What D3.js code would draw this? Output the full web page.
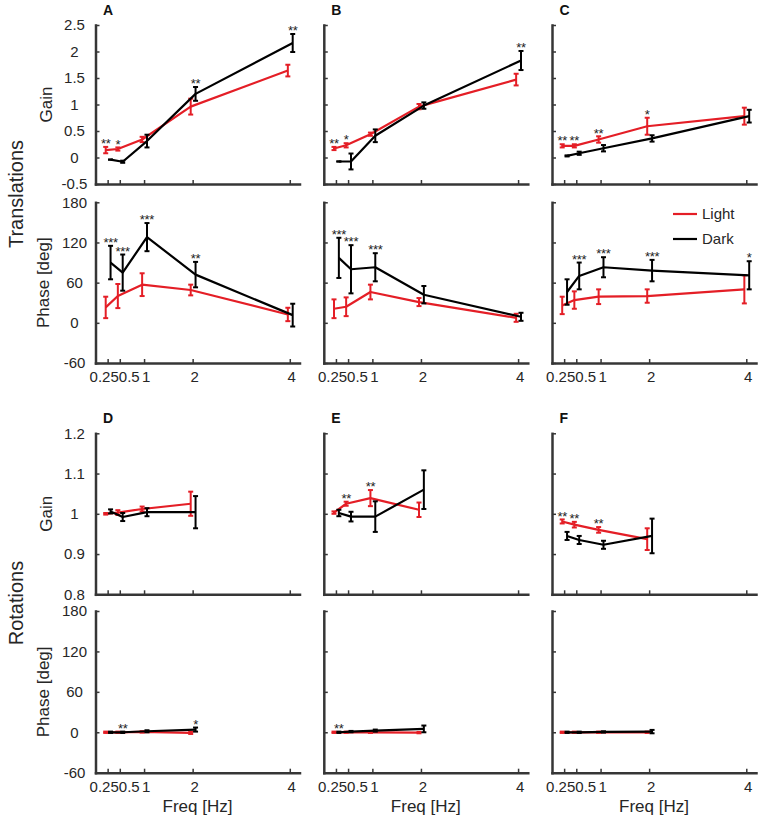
<!DOCTYPE html>
<html><head><meta charset="utf-8">
<script src="https://cdn.jsdelivr.net/npm/d3@7"></script>
<style>body{margin:0;background:#fff} svg{display:block} text{font-family:"Liberation Sans",Arial,sans-serif}</style>
</head><body><svg id="c" width="767" height="817"></svg>
<script>
const freqTrans = [0.25, 0.5, 1, 2, 4];
const freqRot = [0.25, 0.5, 1, 2];
const xTickValues = [0.25, 0.5, 1, 2, 4];
const xTickLabels = ["0.25", "0.5", "1", "2", "4"];
const transGainTicks = [-0.5, 0, 0.5, 1, 1.5, 2, 2.5];
const transGainTickLabels = ["-0.5", "0", "0.5", "1", "1.5", "2", "2.5"];
const rotGainTicks = [0.8, 0.9, 1, 1.1, 1.2];
const rotGainTickLabels = ["0.8", "0.9", "1", "1.1", "1.2"];
const phaseTicks = [-60, 0, 60, 120, 180];
const phaseTickLabels = ["-60", "0", "60", "120", "180"];
const panelLetters = ["A", "B", "C", "D", "E", "F"];
const seriesNames = ["Light", "Dark"];
const rowNames = ["Translations", "Rotations"];

// Panel A (translations)
const gainLightA = [0.14, 0.16, 0.34, 0.96, 1.64];
const gainLightErrA = [0.06, 0.03, 0.05, 0.15, 0.11];
const gainDarkA = [-0.04, -0.08, 0.31, 1.2, 2.16];
const gainDarkErrA = [0.0, 0.02, 0.12, 0.13, 0.17];
const phaseLightA = [23, 40, 57, 49, 12.5];
const phaseLightErrA = [16, 18, 17, 8, 10];
const phaseDarkA = [90, 75, 128, 72, 11.5];
const phaseDarkErrA = [25, 27, 21, 19, 17];
const gainStarsA = [[0.25, "**"], [0.5, "*"], [2, "**"], [4, "**"]];
const phaseStarsA = [[0.25, "***"], [0.5, "***"], [1, "***"], [2, "**"]];

// Panel B
const gainLightB = [0.17, 0.23, 0.44, 0.96, 1.47];
const gainLightErrB = [0.03, 0.04, 0.03, 0.05, 0.11];
const gainDarkB = [-0.075, -0.075, 0.41, 0.98, 1.83];
const gainDarkErrB = [0.0, 0.15, 0.12, 0.06, 0.18];
const phaseLightB = [21, 24, 46, 31, 7.5];
const phaseLightErrB = [14, 14, 11, 6, 6];
const phaseDarkB = [97, 80, 83, 42, 9];
const phaseDarkErrB = [30, 36, 21, 13, 6];
const gainStarsB = [[0.25, "**"], [0.5, "*"], [4, "**"]];
const phaseStarsB = [[0.25, "***"], [0.5, "***"], [1, "***"]];

// Panel C
const gainLightC = [0.22, 0.22, 0.34, 0.59, 0.78];
const gainLightErrC = [0.03, 0.03, 0.06, 0.16, 0.16];
const gainDarkC = [0.03, 0.08, 0.175, 0.36, 0.78];
const gainDarkErrC = [0.01, 0.03, 0.06, 0.06, 0.12];
const phaseLightC = [26, 34, 39, 40, 50];
const phaseLightErrC = [13, 13, 11, 10, 21];
const phaseDarkC = [46, 70, 83, 78, 71];
const phaseDarkErrC = [19, 20, 15, 16, 21];
const gainStarsC = [[0.25, "**"], [0.5, "**"], [1, "**"], [2, "*"]];
const phaseStarsC = [[0.5, "***"], [1, "***"], [2, "***"], [4, "*"]];

// Panel D (rotations)
const gainLightD = [1.0, 1.003, 1.012, 1.025];
const gainLightErrD = [0.002, 0.006, 0.006, 0.03];
const gainDarkD = [1.006, 0.992, 1.004, 1.004];
const gainDarkErrD = [0.005, 0.01, 0.01, 0.04];
const phaseLightD = [0, 0, 0.5, -1];
const phaseLightErrD = [1, 1, 1, 1.5];
const phaseDarkD = [0, 0, 1.5, 4];
const phaseDarkErrD = [1, 1, 1.5, 3];
const gainStarsD = [];
const phaseStarsD = [[0.5, "**"], [2, "*"]];

// Panel E
const gainLightE = [1.003, 1.025, 1.039, 1.01];
const gainLightErrE = [0.003, 0.005, 0.02, 0.018];
const gainDarkE = [1.002, 0.993, 0.993, 1.06];
const gainDarkErrE = [0.008, 0.012, 0.038, 0.048];
const phaseLightE = [0, 0, 0, -0.5];
const phaseLightErrE = [1, 1, 1, 1];
const phaseDarkE = [0, 1, 2.5, 5];
const phaseDarkErrE = [1, 1, 1.5, 5];
const gainStarsE = [[0.5, "**"], [1, "**"]];
const phaseStarsE = [[0.25, "**"]];

// Panel F
const gainLightF = [0.981, 0.973, 0.96, 0.937];
const gainLightErrF = [0.005, 0.007, 0.007, 0.027];
const gainDarkF = [0.945, 0.935, 0.923, 0.945];
const gainDarkErrF = [0.01, 0.01, 0.01, 0.043];
const phaseLightF = [0, 0, 0, 0];
const phaseLightErrF = [1, 1, 1, 1];
const phaseDarkF = [0, 0, 0.5, 1];
const phaseDarkErrF = [1, 1, 1, 2.5];
const gainStarsF = [[0.25, "**"], [0.5, "**"], [1, "**"]];
const phaseStarsF = [];

// ---------- layout ----------
const svg = d3.select("#c");
const RED = "#e41e26", BLACK = "#000000", AXIS = "#363636", TXT = "#262626";
const colX0 = [95.5, 323.8, 552];
const xWidth = 204;
const rowsY = {
  transGain: [184, 25], transPhase: [363, 202.3],
  rotGain: [594.3, 433.3], rotPhase: [772.7, 611]
};
const offLight = -0.04, offDark = 0.06;

const panels = [
  {letter: 0, col: 0, row: "trans", freq: freqTrans,
   gain: [gainLightA, gainLightErrA, gainDarkA, gainDarkErrA], phase: [phaseLightA, phaseLightErrA, phaseDarkA, phaseDarkErrA], gs: gainStarsA, ps: phaseStarsA},
  {letter: 1, col: 1, row: "trans", freq: freqTrans,
   gain: [gainLightB, gainLightErrB, gainDarkB, gainDarkErrB], phase: [phaseLightB, phaseLightErrB, phaseDarkB, phaseDarkErrB], gs: gainStarsB, ps: phaseStarsB},
  {letter: 2, col: 2, row: "trans", freq: freqTrans,
   gain: [gainLightC, gainLightErrC, gainDarkC, gainDarkErrC], phase: [phaseLightC, phaseLightErrC, phaseDarkC, phaseDarkErrC], gs: gainStarsC, ps: phaseStarsC},
  {letter: 3, col: 0, row: "rot", freq: freqRot,
   gain: [gainLightD, gainLightErrD, gainDarkD, gainDarkErrD], phase: [phaseLightD, phaseLightErrD, phaseDarkD, phaseDarkErrD], gs: gainStarsD, ps: phaseStarsD},
  {letter: 4, col: 1, row: "rot", freq: freqRot,
   gain: [gainLightE, gainLightErrE, gainDarkE, gainDarkErrE], phase: [phaseLightE, phaseLightErrE, phaseDarkE, phaseDarkErrE], gs: gainStarsE, ps: phaseStarsE},
  {letter: 5, col: 2, row: "rot", freq: freqRot,
   gain: [gainLightF, gainLightErrF, gainDarkF, gainDarkErrF], phase: [phaseLightF, phaseLightErrF, phaseDarkF, phaseDarkErrF], gs: gainStarsF, ps: phaseStarsF}
];

function drawAxes(g, x, y, yTicks, yLabels, showY, showX) {
  const ya = d3.axisLeft(y).tickValues(yTicks).tickSizeInner(-4).tickSizeOuter(0)
    .tickFormat((d, i) => showY ? yLabels[i] : "");
  const yg = g.append("g").attr("transform", `translate(${x.range()[0]},0)`).call(ya);
  yg.selectAll("path.domain").attr("stroke", AXIS).attr("stroke-width", 2.5).attr("stroke-linecap", "square");
  yg.selectAll(".tick line").attr("stroke", AXIS).attr("stroke-width", 1.5);
  yg.selectAll("text").attr("x", -21).attr("text-anchor", "middle").attr("fill", TXT)
    .style("font-size", "15px").style("font-family", '"Liberation Sans",Arial,sans-serif');

  const xa = d3.axisBottom(x).tickValues(xTickValues).tickSizeInner(-4).tickSizeOuter(0)
    .tickFormat((d, i) => showX ? xTickLabels[i] : "");
  const xg = g.append("g").attr("transform", `translate(0,${y.range()[0]})`).call(xa);
  xg.selectAll("path.domain").attr("stroke", AXIS).attr("stroke-width", 2.5).attr("stroke-linecap", "square");
  xg.selectAll(".tick line").attr("stroke", AXIS).attr("stroke-width", 1.5);
  xg.selectAll("text").attr("y", 8.5).attr("fill", TXT)
    .style("font-size", "15px").style("font-family", '"Liberation Sans",Arial,sans-serif');
  if (showX) {
    const x05 = x(0.5) - x(0.25);
    xg.selectAll(".tick text").each(function(d, i) {
      const t = d3.select(this);
      if (i === 0) t.attr("text-anchor", "end").attr("x", x05 - 1.5);
      else if (i === 1) t.attr("text-anchor", "start").attr("x", -1.5);
      else t.attr("x", 1.5);
    });
  }
}

function drawSeries(g, x, y, freq, vals, errs, off, color) {
  const pts = freq.map((f, i) => ({f: f + off, v: vals[i], e: errs[i]}));
  g.append("path").datum(pts)
    .attr("d", d3.line().x(d => x(d.f)).y(d => y(d.v)))
    .attr("fill", "none").attr("stroke", color).attr("stroke-width", 2.2).attr("stroke-linejoin", "round");
  const eb = g.append("g");
  pts.forEach(d => {
    const xx = x(d.f), y1 = y(d.v - d.e), y2 = y(d.v + d.e);
    eb.append("line").attr("x1", xx).attr("x2", xx).attr("y1", y1).attr("y2", y2)
      .attr("stroke", color).attr("stroke-width", 2);
    [y1, y2].forEach(yy => eb.append("line").attr("x1", xx - 2.5).attr("x2", xx + 2.5)
      .attr("y1", yy).attr("y2", yy).attr("stroke", color).attr("stroke-width", 2));
  });
}

function drawStars(g, x, y, freq, set, stars) {
  const [lv, le, dv, de] = set;
  stars.forEach(([f, s]) => {
    const i = freq.indexOf(f);
    const topL = y(lv[i] + le[i]), topD = y(dv[i] + de[i]);
    const useL = topL < topD;
    const xx = x(f + (useL ? offLight : offDark));
    g.append("text").attr("x", xx).attr("y", Math.min(topL, topD) + 1.2)
      .attr("text-anchor", "middle").attr("fill", "#222").style("font-size", "13px")
      .style("letter-spacing", "-0.3px").text(s);
  });
}

panels.forEach(p => {
  const x0 = colX0[p.col];
  const x = d3.scaleLinear().domain([0, 4.2]).range([x0, x0 + xWidth]);
  const gy = d3.scaleLinear().domain(p.row === "trans" ? [-0.5, 2.5] : [0.8, 1.2])
    .range(p.row === "trans" ? rowsY.transGain : rowsY.rotGain);
  const py = d3.scaleLinear().domain([-60, 180])
    .range(p.row === "trans" ? rowsY.transPhase : rowsY.rotPhase);
  const g = svg.append("g");
  const showY = p.col === 0;
  drawAxes(g, x, gy, p.row === "trans" ? transGainTicks : rotGainTicks,
    p.row === "trans" ? transGainTickLabels : rotGainTickLabels, showY, false);
  drawAxes(g, x, py, phaseTicks, phaseTickLabels, showY, true);

  drawSeries(g, x, gy, p.freq, p.gain[0], p.gain[1], offLight, RED);
  drawSeries(g, x, gy, p.freq, p.gain[2], p.gain[3], offDark, BLACK);
  drawSeries(g, x, py, p.freq, p.phase[0], p.phase[1], offLight, RED);
  drawSeries(g, x, py, p.freq, p.phase[2], p.phase[3], offDark, BLACK);
  drawStars(g, x, gy, p.freq, p.gain, p.gs);
  drawStars(g, x, py, p.freq, p.phase, p.ps);

  // panel letter
  g.append("text").attr("x", x0 + 7.5).attr("y", gy.range()[1] - 10)
    .style("font-size", "14px").style("font-weight", "bold").attr("fill", "#111")
    .text(panelLetters[p.letter]);

  if (showY) {
    const gc = (gy.range()[0] + gy.range()[1]) / 2;
    const pc = (py.range()[0] + py.range()[1]) / 2;
    g.append("text").attr("transform", `translate(52,${gc}) rotate(-90)`).attr("text-anchor", "middle")
      .attr("fill", TXT).style("font-size", "17px").text("Gain");
    g.append("text").attr("transform", `translate(49,${pc}) rotate(-90)`).attr("text-anchor", "middle")
      .attr("fill", TXT).style("font-size", "17px").text("Phase [deg]");
    g.append("text").attr("transform", `translate(23,${(gy.range()[1] + py.range()[0]) / 2}) rotate(-90)`)
      .attr("text-anchor", "middle").attr("fill", TXT).style("font-size", "20px")
      .text(rowNames[p.row === "trans" ? 0 : 1]);
  }
  if (p.row === "rot") {
    g.append("text").attr("x", x0 + 102).attr("y", 812).attr("text-anchor", "middle")
      .attr("fill", TXT).style("font-size", "17px").text("Freq [Hz]");
  }
});

// legend (panel C phase)
const legY = [214, 239];
[RED, BLACK].forEach((c, i) => {
  svg.append("line").attr("x1", 673).attr("x2", 697).attr("y1", legY[i]).attr("y2", legY[i])
    .attr("stroke", c).attr("stroke-width", 2.2);
  svg.append("text").attr("x", 702).attr("y", legY[i]).attr("dy", "0.35em").attr("fill", TXT)
    .style("font-size", "15px").text(seriesNames[i]);
});
</script></body></html>
